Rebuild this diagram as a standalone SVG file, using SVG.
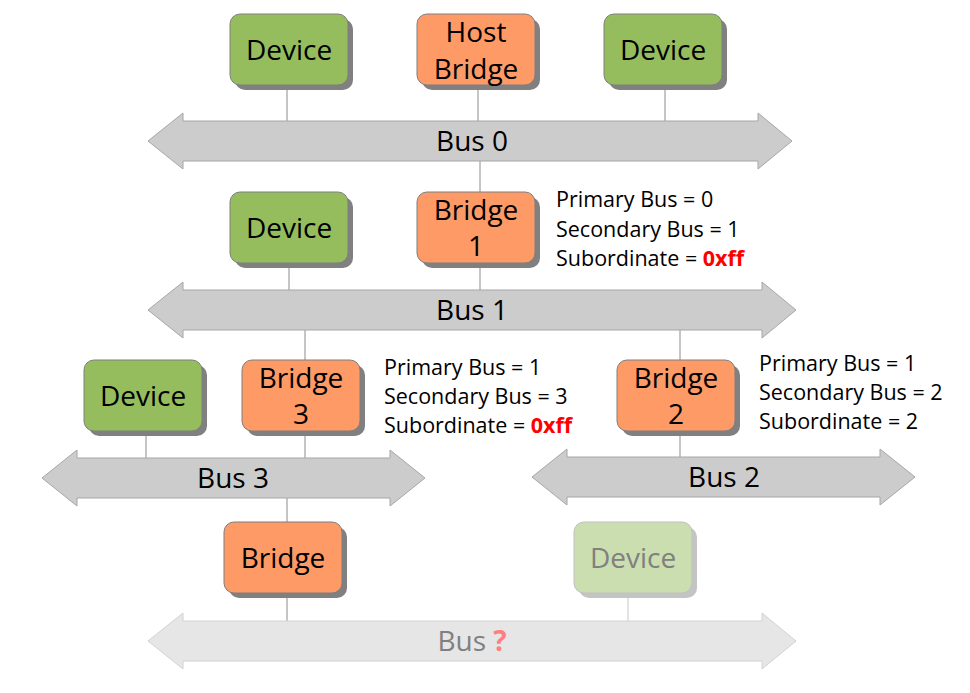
<svg xmlns="http://www.w3.org/2000/svg" width="970" height="693" viewBox="0 0 970 693">
<defs>
<style>
.box{stroke:#7f7f7f;stroke-width:1}
.dev{fill:#95bd5d}
.brg{fill:#fe9a66}
.sh{fill:#808080}
.lbl{font-family:"Open Sans","Noto Sans","DejaVu Sans",sans-serif;font-size:28px;fill:#000;text-anchor:middle}
.info{font-family:"Open Sans","Noto Sans","DejaVu Sans",sans-serif;font-size:21.5px;fill:#000}
.red{fill:#ff0000;font-weight:bold}
.bus{fill:#cccccc;stroke:#a6a6a6;stroke-width:1}
.ln{stroke:#8c8c8c;stroke-width:1;fill:none}
</style>
</defs>
<g id="connectors">
<line class="ln" x1="287" y1="85" x2="287" y2="121"/>
<line class="ln" x1="478" y1="85" x2="478" y2="121"/>
<line class="ln" x1="665" y1="85" x2="665" y2="121"/>
<line class="ln" x1="480" y1="161" x2="480" y2="192"/>
<line class="ln" x1="289" y1="263" x2="289" y2="290"/>
<line class="ln" x1="480" y1="263" x2="480" y2="290"/>
<line class="ln" x1="305" y1="330" x2="305" y2="360"/>
<line class="ln" x1="680" y1="330" x2="680" y2="360"/>
<line class="ln" x1="146" y1="431" x2="146" y2="458"/>
<line class="ln" x1="305" y1="431" x2="305" y2="458"/>
<line class="ln" x1="680" y1="431" x2="680" y2="458"/>
<line class="ln" x1="287" y1="498" x2="287" y2="522"/>
<line class="ln" x1="287" y1="593" x2="287" y2="621"/>
<line x1="628" y1="593" x2="628" y2="621" stroke="#c8c8c8" stroke-width="1"/>
</g>
<g id="bus0">
<polygon class="bus" points="148,141 183,113 183,121 758,121 758,113 792,141 758,169 758,161 183,161 183,169"/>
<text class="lbl" x="472" y="151">Bus 0</text>
</g>
<g id="bus1">
<polygon class="bus" points="148,310 183,282 183,290 762,290 762,282 796,310 762,338 762,330 183,330 183,338"/>
<text class="lbl" x="472" y="320">Bus 1</text>
</g>
<g id="bus3">
<polygon class="bus" points="42,478 77,450 77,458 390,458 390,450 425,478 390,506 390,498 77,498 77,506"/>
<text class="lbl" x="233" y="488">Bus 3</text>
</g>
<g id="bus2">
<polygon class="bus" points="532,477 567,449 567,457 880,457 880,449 915,477 880,505 880,497 567,497 567,505"/>
<text class="lbl" x="724" y="487">Bus 2</text>
</g>
<g id="busq">
<polygon points="148,641 183,613 183,621 762,621 762,613 796,641 762,669 762,661 183,661 183,669" fill="#e6e6e6" stroke="#d2d2d2" stroke-width="1"/>
<text class="lbl" x="472" y="651" style="fill:#808080">Bus <tspan style="fill:#ff7f7f;font-weight:bold">?</tspan></text>
</g>
<g id="device-top-left">
<rect class="sh" x="235" y="19" width="118" height="71" rx="10"/>
<rect class="box dev" x="230" y="14" width="118" height="71" rx="10"/>
<text class="lbl" x="289" y="60">Device</text>
</g>
<g id="host-bridge">
<rect class="sh" x="422" y="19" width="118" height="71" rx="10"/>
<rect class="box brg" x="417" y="14" width="118" height="71" rx="10"/>
<text class="lbl" x="476" y="42">Host</text>
<text class="lbl" x="476" y="79">Bridge</text>
</g>
<g id="device-top-right">
<rect class="sh" x="609" y="19" width="118" height="71" rx="10"/>
<rect class="box dev" x="604" y="14" width="118" height="71" rx="10"/>
<text class="lbl" x="663" y="60">Device</text>
</g>
<g id="device-row2">
<rect class="sh" x="235" y="197" width="118" height="71" rx="10"/>
<rect class="box dev" x="230" y="192" width="118" height="71" rx="10"/>
<text class="lbl" x="289" y="238">Device</text>
</g>
<g id="bridge1">
<rect class="sh" x="422" y="197" width="118" height="71" rx="10"/>
<rect class="box brg" x="417" y="192" width="118" height="71" rx="10"/>
<text class="lbl" x="476" y="220">Bridge</text>
<text class="lbl" x="476" y="256">1</text>
<text class="info" x="556" y="207">Primary Bus = 0</text>
<text class="info" x="556" y="237">Secondary Bus = 1</text>
<text class="info" x="556" y="266">Subordinate = <tspan class="red">0xff</tspan></text>
</g>
<g id="device-row3">
<rect class="sh" x="89" y="365" width="118" height="71" rx="10"/>
<rect class="box dev" x="84" y="360" width="118" height="71" rx="10"/>
<text class="lbl" x="143" y="406">Device</text>
</g>
<g id="bridge3">
<rect class="sh" x="247" y="365" width="118" height="71" rx="10"/>
<rect class="box brg" x="242" y="360" width="118" height="71" rx="10"/>
<text class="lbl" x="301" y="388">Bridge</text>
<text class="lbl" x="301" y="424">3</text>
<text class="info" x="384" y="375">Primary Bus = 1</text>
<text class="info" x="384" y="404">Secondary Bus = 3</text>
<text class="info" x="384" y="433">Subordinate = <tspan class="red">0xff</tspan></text>
</g>
<g id="bridge2">
<rect class="sh" x="622" y="365" width="118" height="71" rx="10"/>
<rect class="box brg" x="617" y="360" width="118" height="71" rx="10"/>
<text class="lbl" x="676" y="388">Bridge</text>
<text class="lbl" x="676" y="424">2</text>
<text class="info" x="759" y="371">Primary Bus = 1</text>
<text class="info" x="759" y="400">Secondary Bus = 2</text>
<text class="info" x="759" y="429">Subordinate = 2</text>
</g>
<g id="bridge-bottom">
<rect class="sh" x="229" y="527" width="118" height="71" rx="10"/>
<rect class="box brg" x="224" y="522" width="118" height="71" rx="10"/>
<text class="lbl" x="283" y="568">Bridge</text>
</g>
<g id="device-faded">
<rect x="579" y="527" width="118" height="71" rx="10" fill="#c4c4c4"/>
<rect x="574" y="522" width="118" height="71" rx="10" fill="#cbdeb0" stroke="#c0c0c0" stroke-width="1"/>
<text class="lbl" x="633" y="568" style="fill:#808080">Device</text>
</g>
</svg>
